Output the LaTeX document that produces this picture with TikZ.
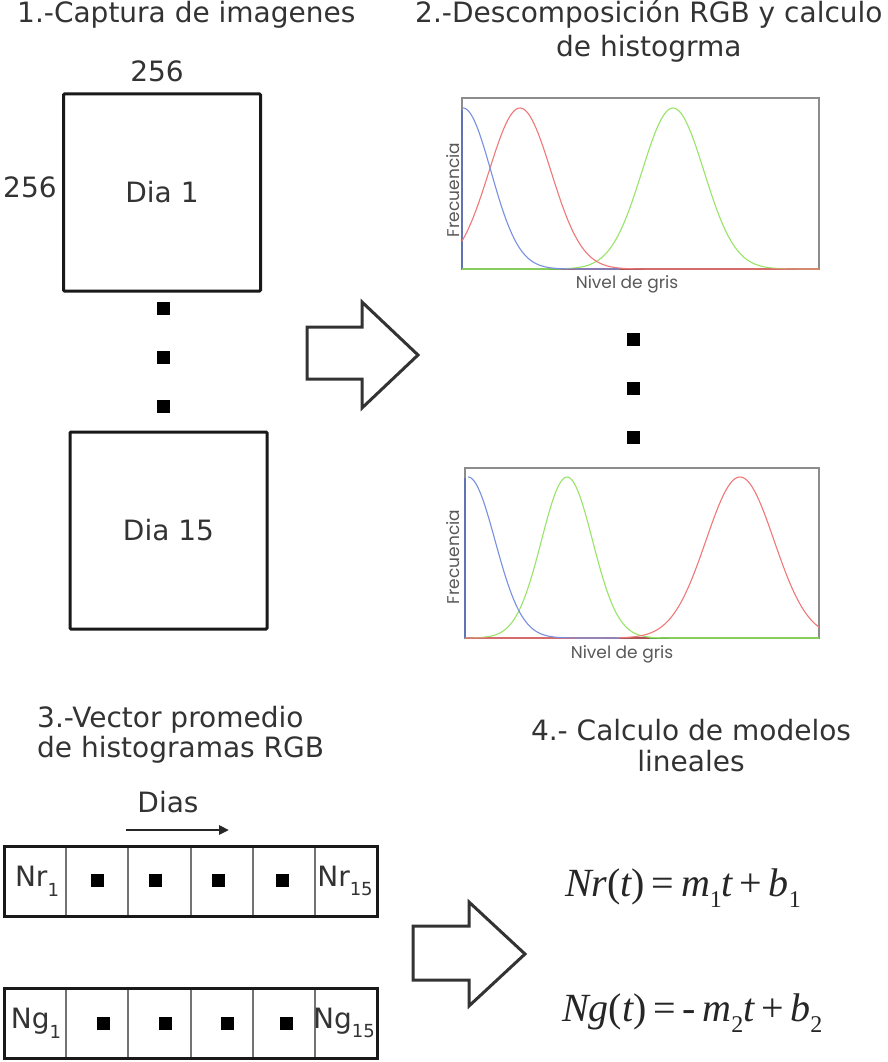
\documentclass[tikz,border=0pt]{standalone}
\usepackage{fontspec}
\setmainfont{DejaVu Sans}
\newfontfamily\labfont{Poppins}
\newfontfamily\eqfont{Liberation Serif}
\usetikzlibrary{arrows.meta}
\definecolor{txtgray}{HTML}{333333}
\definecolor{framegray}{HTML}{8C8C8C}
\definecolor{histred}{HTML}{F07878}
\definecolor{histgreen}{HTML}{98E468}
\definecolor{histblue}{HTML}{7890E0}
\newcommand\eqsub[1]{\raisebox{-0.28em}{\fontsize{24}{24}\selectfont\upshape #1}}
\newcommand\vsub[1]{\raisebox{-0.35em}{\fontsize{18}{18}\selectfont #1}}
\tikzset{
  txt/.style={font=\fontsize{28}{33}\selectfont, text=txtgray, inner sep=0pt},
  ttl/.style={font=\fontsize{28}{33}\selectfont, text=txtgray, inner sep=0pt},
  imgbox/.style={draw=black!90, line width=3pt, rounded corners=1pt, minimum width=197pt, minimum height=197pt, inner sep=0pt, font=\fontsize{28}{33}\selectfont, text=txtgray},
  sqdot/.style={fill=black, minimum size=13pt, inner sep=0pt},
  hframe/.style={draw=framegray, line width=1.5pt, inner sep=0pt},
  hlab/.style={font=\labfont\fontsize{17}{20}\selectfont, text=black!65, inner sep=0pt},
  hcurve/.style={line width=1.1pt, line join=round},
  blockarrow/.style={draw=black!80, line width=3pt, fill=white, line join=miter},
  vecbox/.style={draw=black!90, line width=3pt, minimum width=373pt, minimum height=70pt, inner sep=0pt},
  divider/.style={draw=black!55, line width=1.5pt},
  eq/.style={font=\eqfont\fontsize{40}{44}\selectfont, text=black!85, inner sep=0pt},
}
\begin{document}
\begin{tikzpicture}[x=1pt,y=-1pt]
\useasboundingbox (0,0) rectangle (888,1062);
\fill[white] (0,0) rectangle (888,1062);

% ---------- titles
\node[ttl, anchor=base west] (t1) at (17,23) {1.-Captura de imagenes};
\node[ttl, anchor=base west] (t2a) at (415,23) {2.-Descomposición RGB y calculo};
\node[ttl, anchor=base] (t2b) at (t2a.center |- 0,57) {de histogrma};

% ---------- step 1: images
\node[txt, anchor=base] (w256) at (157,82) {256};
\node[txt, anchor=base west] (h256) at (3,197) {256};
\node[imgbox] (img1) at (162,192.5) {Dia 1};
\node[sqdot] (d1) at (163,308) {};
\node[sqdot] (d2) at (163,357) {};
\node[sqdot] (d3) at (163,406) {};
\node[imgbox] (img15) at (168.5,530.5) {Dia 15};

% ---------- arrow 1
\draw[blockarrow] (307,327) -- (362,327) -- (362,302) -- (418,355) -- (362,408) -- (362,379) -- (307,379) -- cycle;

% ---------- histogram 1
\node[hframe, minimum width=357pt, minimum height=171pt] (h1) at (640.5,183.5) {};
\draw[histgreen!70!black, line width=1.5pt] (462,269) -- (560,269);
\draw[histred!70!black, line width=1.5pt] (560,269) -- (819,269);
\draw[histblue!80!black, line width=1.2pt] (462,269) -- (462,110);
\draw[hcurve, histgreen] plot[domain=462:819, samples=160] (\x, {269-161*exp(-0.5*((\x-673)/31)^2)});
\draw[hcurve, histred] plot[domain=462:819, samples=160] (\x, {269-161*exp(-0.5*((\x-520)/31)^2)});
\draw[hcurve, histblue] plot[domain=463:620, samples=100] (\x, {269-161*exp(-0.5*((\x-463)/28)^2)});
\node[hlab, anchor=base] (nl1) at (627,288) {Nivel de gris};
\node[hlab, rotate=90, anchor=base] (fr1) at (459,190) {Frecuencia};

% ---------- dots between histograms
\node[sqdot] (e1) at (633,339) {};
\node[sqdot] (e2) at (633,388) {};
\node[sqdot] (e3) at (633,437) {};

% ---------- histogram 2
\node[hframe, minimum width=354pt, minimum height=170pt] (h2) at (642,553) {};
\draw[histred!70!black, line width=1.5pt] (465,638) -- (650,638);
\draw[histgreen!70!black, line width=1.5pt] (650,638) -- (819,638);
\draw[histblue!80!black, line width=1.5pt] (465,638) -- (465,478);
\draw[hcurve, histgreen] plot[domain=465:819, samples=160] (\x, {638-161*exp(-0.5*((\x-567)/25.5)^2)});
\draw[hcurve, histred] plot[domain=465:819, samples=160] (\x, {638-161*exp(-0.5*((\x-740)/34)^2)});
\draw[hcurve, histblue] plot[domain=468:620, samples=100] (\x, {638-161*exp(-0.5*((\x-468)/27)^2)});
\node[hlab, anchor=base] (nl2) at (622,658) {Nivel de gris};
\node[hlab, rotate=90, anchor=base] (fr2) at (459,557) {Frecuencia};

% ---------- step 3
\node[txt, anchor=base west] (t3a) at (37,727) {3.-Vector promedio};
\node[txt, anchor=base west] (t3b) at (37,757) {de histogramas RGB};
\node[txt] (dias) at (168,802) {Dias};
\coordinate (da1) at (126,830);
\coordinate (da2) at (229,830);
\draw[line width=2.5pt, black!85, -{Triangle[length=10pt,width=9pt]}] (da1) -- (da2);

\node[vecbox] (v1) at (190.5,881) {};
\foreach \xx in {66,128,191,253,315} \draw[divider] (\xx,847.5) -- (\xx,914.5);
\node[txt] (nr1) at (37,881) {Nr\vsub{1}};
\node[sqdot] (v1d1) at (97,880) {};
\node[sqdot] (v1d2) at (155,880) {};
\node[sqdot] (v1d3) at (218,880) {};
\node[sqdot] (v1d4) at (282,880) {};
\node[txt] (nr15) at (345,881) {Nr\vsub{15}};

\node[vecbox] (v2) at (190.5,1023.5) {};
\foreach \xx in {66,128,191,253,315} \draw[divider] (\xx,990) -- (\xx,1057);
\node[txt] (ng1) at (36,1023) {Ng\vsub{1}};
\node[sqdot] (v2d1) at (103,1023) {};
\node[sqdot] (v2d2) at (165,1023) {};
\node[sqdot] (v2d3) at (227,1023) {};
\node[sqdot] (v2d4) at (286,1023) {};
\node[txt] (ng15) at (344,1023) {Ng\vsub{15}};

% ---------- arrow 2
\draw[blockarrow] (413,926) -- (469,926) -- (469,902) -- (525,954) -- (469,1006) -- (469,980) -- (413,980) -- cycle;

% ---------- step 4
\node[txt, anchor=base] (t4a) at (691,740) {4.- Calculo de modelos};
\node[txt, anchor=base] (t4b) at (691,771) {lineales};
\node[eq, anchor=west] (eq1) at (565,888) {\itshape Nr\upshape(\itshape t\upshape)\,=\,\itshape m\eqsub{1}t\,\upshape+\,\itshape b\eqsub{1}};
\node[eq, anchor=west] (eq2) at (562,1013) {\itshape Ng\upshape(\itshape t\upshape)\,=\,-\,\itshape m\eqsub{2}t\,\upshape+\,\itshape b\eqsub{2}};
\end{tikzpicture}
\end{document}
